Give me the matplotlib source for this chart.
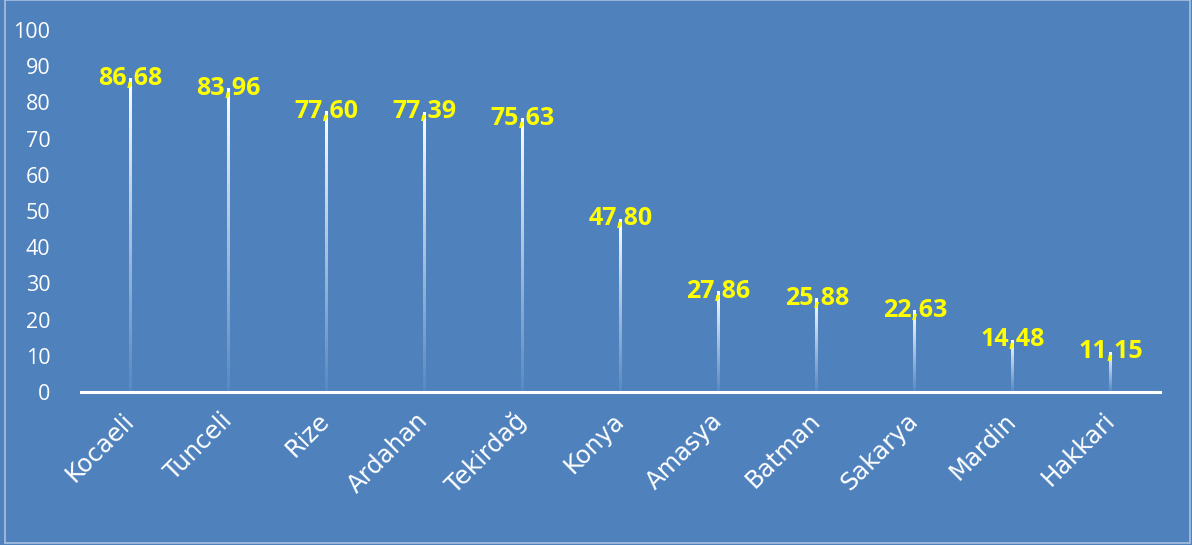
import numpy as np
import matplotlib.pyplot as plt
from matplotlib.patches import Rectangle
from matplotlib.transforms import ScaledTranslation

iller = ['Kocaeli', 'Tunceli', 'Rize', 'Ardahan', 'Tekirdağ', 'Konya',
         'Amasya', 'Batman', 'Sakarya', 'Mardin', 'Hakkari']
degerler = [86.68, 83.96, 77.60, 77.39, 75.63, 47.80,
            27.86, 25.88, 22.63, 14.48, 11.15]
yticks = [0, 10, 20, 30, 40, 50, 60, 70, 80, 90, 100]

bg = '#4F81BD'
W, H = 1192, 545

fig = plt.figure(figsize=(W / 100, H / 100), dpi=100, facecolor=bg)
ax = fig.add_axes([81 / W, 153 / H, (1160 - 81) / W, (392 - 30) / H])
ax.set_facecolor(bg)

x = np.arange(len(iller))
bars = ax.bar(x, degerler, width=0.03, color='none', edgecolor='none')

# white -> transparent vertical gradient, clipped to each bar
grad = np.zeros((256, 1, 4))
grad[:, 0, :3] = 1.0
grad[:, 0, 3] = np.linspace(1.0, 0.08, 256) ** 1.1
for b in bars:
    im = ax.imshow(grad, extent=[b.get_x(), b.get_x() + b.get_width(), 0, b.get_height()],
                   aspect='auto', origin='upper', zorder=2, interpolation='bilinear')
    im.set_clip_path(b)

for xi, v in zip(x, degerler):
    ax.text(xi, v, f'{v:.2f}'.replace('.', ','), ha='center', va='center',
            color='#FFFF00', fontsize=18, fontweight='bold', family='Open Sans', zorder=3)

ax.set_xlim(-0.5, len(iller) - 0.5)
ax.set_ylim(0, 100)
ax.set_yticks(yticks)
ax.set_xticks(x)
ax.set_xticklabels(iller, rotation=45, ha='right', va='center', rotation_mode='anchor',
                   fontsize=17.5, fontfamily='DejaVu Sans', color='white')
off = ScaledTranslation(6 / 100, -3 / 100, fig.dpi_scale_trans)
for lab in ax.get_xticklabels():
    lab.set_transform(lab.get_transform() + off)
ax.tick_params(axis='x', length=0, pad=18)
ax.tick_params(axis='y', length=0, pad=22, labelcolor='white', labelsize=15.5,
               labelfontfamily='Open Sans')

for s in ['top', 'right', 'left']:
    ax.spines[s].set_visible(False)
ax.spines['bottom'].set_color('white')
ax.spines['bottom'].set_linewidth(2.2)

# thin light frame around the chart area
fig.add_artist(Rectangle((4.5 / W, 2 / H), (1190 - 4.5) / W, (545 - 2) / H,
                         transform=fig.transFigure, fill=False,
                         edgecolor='#A9C1E0', linewidth=1.2))

fig.savefig('out.png', dpi=100, facecolor=bg)
